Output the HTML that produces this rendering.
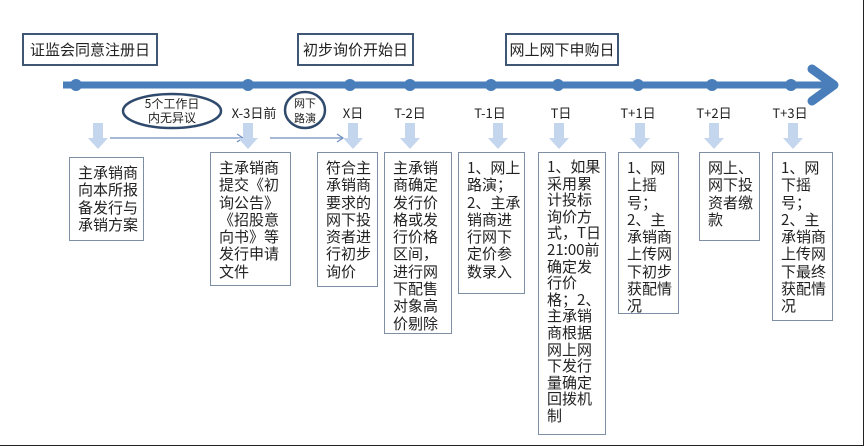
<!DOCTYPE html>
<html><head><meta charset="utf-8"><style>
html,body{margin:0;padding:0;background:#fff}
body{width:864px;height:446px;position:relative;overflow:hidden;font-family:"Liberation Sans","Noto Sans CJK SC",sans-serif}
.b{position:absolute;border:1.5px solid #7f8fa3;background:#fff;box-sizing:border-box;font-size:15px;line-height:17.3px;color:#222;padding:6px 0 0 8px;font-family:"Noto Sans CJK SC",sans-serif}
.t{position:absolute;border:2.5px solid #3f5675;background:#fff;box-sizing:border-box;font-size:15px;color:#222;display:flex;align-items:center;justify-content:center;font-family:"Noto Sans CJK SC",sans-serif}
.l{position:absolute;font-size:13px;color:#222;font-family:"Noto Sans CJK SC",sans-serif;transform:translateX(-50%);white-space:nowrap}
</style></head><body>
<svg width="864" height="446" style="position:absolute;left:0;top:0">
<line x1="63" y1="85" x2="832" y2="85" stroke="#4a7ebb" stroke-width="7"/>
<polyline points="812,69 834,85 812,101" fill="none" stroke="#4a7ebb" stroke-width="9" stroke-linecap="round" stroke-linejoin="round"/>
<g fill="#4a7ebb">
<circle cx="76" cy="85" r="6"/><circle cx="248" cy="85" r="6"/><circle cx="350" cy="85" r="6"/><circle cx="410" cy="85" r="6"/><circle cx="491" cy="85" r="6"/><circle cx="558" cy="85" r="6"/><circle cx="638" cy="85" r="6"/><circle cx="712" cy="85" r="6"/><circle cx="791" cy="85" r="6"/>
</g>
<ellipse cx="172" cy="111" rx="49" ry="17" fill="#fff" stroke="#2f4a6d" stroke-width="2.5"/>
<ellipse cx="305" cy="110" rx="20" ry="18" fill="#fff" stroke="#2f4a6d" stroke-width="2.5"/>
<g stroke="#6f8fbf" stroke-width="1.2" fill="none">
<line x1="110" y1="138" x2="243" y2="138"/><polyline points="237,134 243,138 237,142"/>
<line x1="270" y1="138" x2="343" y2="138"/><polyline points="337,134 343,138 337,142"/>
</g>
<g fill="#c3d6ee">
<path d="M93,123h10v15h5l-10,11l-10,-11h5z"/>
<path d="M243,123h10v15h5l-10,11l-10,-11h5z"/>
<path d="M348,123h10v15h5l-10,11l-10,-11h5z"/>
<path d="M405,123h10v15h5l-10,11l-10,-11h5z"/>
<path d="M493,123h10v15h5l-10,11l-10,-11h5z"/>
<path d="M554,123h10v15h5l-10,11l-10,-11h5z"/>
<path d="M635,123h10v15h5l-10,11l-10,-11h5z"/>
<path d="M709,123h10v15h5l-10,11l-10,-11h5z"/>
<path d="M788,123h10v15h5l-10,11l-10,-11h5z"/>
</g>
<line x1="863.5" y1="0" x2="863.5" y2="446" stroke="#222"/>
<line x1="0" y1="445.5" x2="864" y2="445.5" stroke="#222"/>
</svg>
<div class="t" style="left:22px;top:33px;width:136px;height:33px">证监会同意注册日</div>
<div class="t" style="left:297px;top:33px;width:117px;height:33px">初步询价开始日</div>
<div class="t" style="left:505px;top:33px;width:114px;height:33px">网上网下申购日</div>
<div class="l" style="left:172px;top:97px;font-size:12px;line-height:14px;text-align:center">5个工作日<br>内无异议</div>
<div class="l" style="left:305px;top:96px;font-size:11px;line-height:15px;text-align:center">网下<br>路演</div>
<div class="l" style="left:254px;top:103px">X-3日前</div>
<div class="l" style="left:353px;top:103px">X日</div>
<div class="l" style="left:410px;top:103px">T-2日</div>
<div class="l" style="left:490px;top:103px">T-1日</div>
<div class="l" style="left:561px;top:103px">T日</div>
<div class="l" style="left:638px;top:103px">T+1日</div>
<div class="l" style="left:714px;top:103px">T+2日</div>
<div class="l" style="left:790px;top:103px">T+3日</div>
<div class="b" style="left:69px;top:157px;width:75px;height:84px">主承销商<br>向本所报<br>备发行与<br>承销方案</div>
<div class="b" style="left:210px;top:152px;width:81px;height:134px">主承销商<br>提交《初<br>询公告》<br>《招股意<br>向书》等<br>发行申请<br>文件</div>
<div class="b" style="left:317px;top:152px;width:61px;height:135px">符合主<br>承销商<br>要求的<br>网下投<br>资者进<br>行初步<br>询价</div>
<div class="b" style="left:384px;top:152px;width:68px;height:182px">主承销<br>商确定<br>发行价<br>格或发<br>行价格<br>区间，<br>进行网<br>下配售<br>对象高<br>价剔除</div>
<div class="b" style="left:458px;top:152px;width:67px;height:142px">1、网上<br>路演；<br>2、主承<br>销商进<br>行网下<br>定价参<br>数录入</div>
<div class="b" style="left:538px;top:152px;width:68px;height:283px;line-height:16.6px">1、如果<br>采用累<br>计投标<br>询价方<br>式，T日<br>21:00前<br>确定发<br>行价<br>格；2、<br>主承销<br>商根据<br>网上网<br>下发行<br>量确定<br>回拨机<br>制</div>
<div class="b" style="left:618px;top:152px;width:61px;height:162px">1、网<br>上摇<br>号；<br>2、主<br>承销商<br>上传网<br>下初步<br>获配情<br>况</div>
<div class="b" style="left:699px;top:152px;width:61px;height:89px">网上、<br>网下投<br>资者缴<br>款</div>
<div class="b" style="left:772px;top:152px;width:61px;height:169px">1、网<br>下摇<br>号；<br>2、主<br>承销商<br>上传网<br>下最终<br>获配情<br>况</div>
</body></html>
